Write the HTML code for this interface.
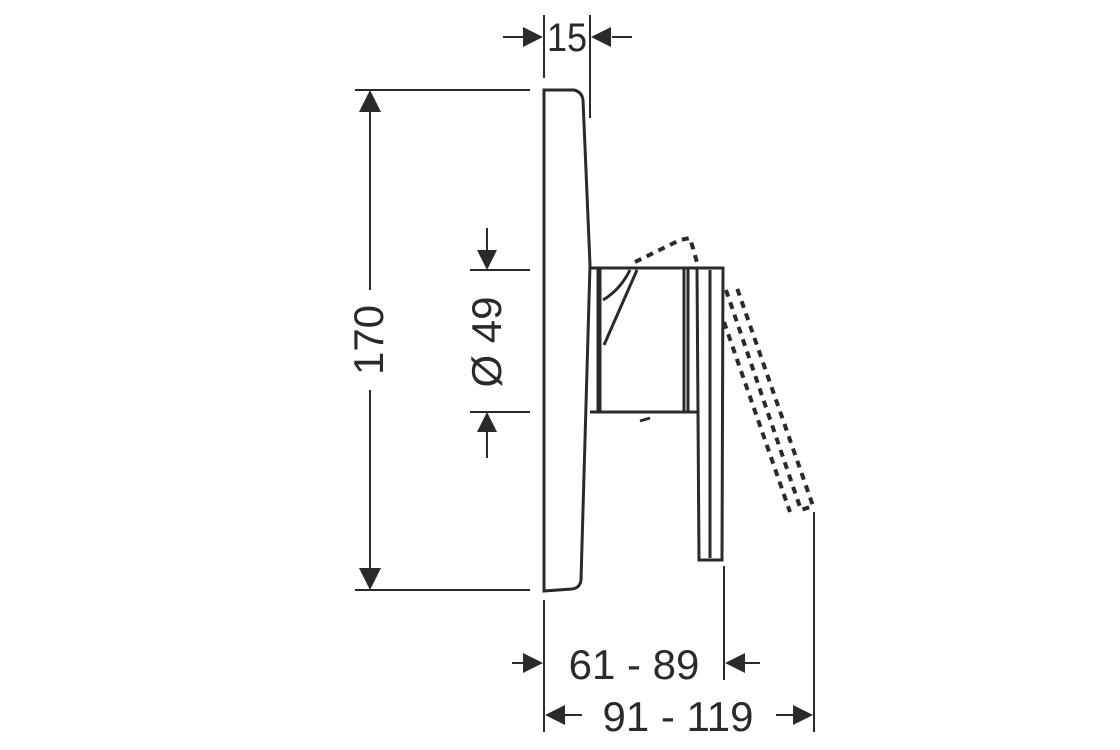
<!DOCTYPE html>
<html><head><style>html,body{margin:0;padding:0;background:#fff}svg{display:block}</style></head>
<body>
<svg width="1120" height="750" viewBox="0 0 1120 750" xmlns="http://www.w3.org/2000/svg">
<g stroke="#2a2a2a" fill="none" stroke-width="2">
<line x1="355" y1="90" x2="530" y2="90"/>
<line x1="355" y1="590" x2="530" y2="590"/>
<line x1="370" y1="92" x2="370" y2="290"/>
<line x1="370" y1="390" x2="370" y2="588"/>
<path d="M370,90 l-11,22 h22 z M370,590 l-11,-22 h22 z" fill="#2a2a2a" stroke="none"/>
<line x1="470" y1="270" x2="530" y2="270"/>
<line x1="470" y1="412" x2="530" y2="412"/>
<line x1="487" y1="228" x2="487" y2="255"/>
<line x1="487" y1="428" x2="487" y2="458"/>
<path d="M487,270 l-10,-20 h20 z M487,412 l-10,20 h20 z" fill="#2a2a2a" stroke="none"/>
<line x1="544" y1="15" x2="544" y2="78"/>
<line x1="590" y1="15" x2="590" y2="118"/>
<line x1="503" y1="37" x2="525" y2="37"/>
<line x1="612" y1="37" x2="632" y2="37"/>
<path d="M543,37 l-20,-10 v20 z M591,37 l20,-10 v20 z" fill="#2a2a2a" stroke="none"/>
<line x1="544" y1="600" x2="544" y2="732"/>
<line x1="724" y1="566" x2="724" y2="680"/>
<line x1="814" y1="512" x2="814" y2="732"/>
<line x1="512" y1="663" x2="526" y2="663"/>
<line x1="742" y1="663" x2="760" y2="663"/>
<path d="M543,663 l-20,-10 v20 z M725,663 l20,-10 v20 z" fill="#2a2a2a" stroke="none"/>
<line x1="560" y1="715" x2="582" y2="715"/>
<line x1="776" y1="715" x2="796" y2="715"/>
<path d="M545,715 l20,-10 v20 z M813,715 l-20,-10 v20 z" fill="#2a2a2a" stroke="none"/>
<g stroke-width="3">
<path d="M544,90 H574 Q582,92 583,100 L590,265 L581,580 Q580,588 572,589 L544,591 Z"/>
<path d="M590,268 H598 V412 H590"/>
<path d="M600,268 H684 V412 H600 Z"/>
<path d="M684,268 H697 M684,412 H697"/>
<path d="M598,268 V412"/>
<path d="M637,270 L604,345"/>
<path d="M603,300 Q620,290 630,270"/>
<path d="M697,268 H723 L722,560 H699 Z"/>
<line x1="710" y1="270" x2="710" y2="558"/>
<line x1="688" y1="268" x2="688" y2="412"/>
<path d="M640,421 l10,-3"/>
</g>
<g stroke-width="4" stroke-dasharray="7,6">
<path d="M635,262 L680,240 L690,238 L698,266"/>
<path d="M726,290 L801,510 L813,506 L737,288"/>
<path d="M724,322 L790,512"/>
</g>
</g>
<g font-family="Liberation Sans, sans-serif" font-size="42" fill="#2a2a2a">
<text x="547" y="51" font-size="40" textLength="40" lengthAdjust="spacingAndGlyphs">15</text>
<text x="634" y="679" text-anchor="middle">61 - 89</text>
<text x="678" y="731" text-anchor="middle">91 - 119</text>
<text transform="translate(383,340) rotate(-90)" text-anchor="middle">170</text>
<text transform="translate(501,342) rotate(-90)" text-anchor="middle">Ø 49</text>
</g>
</svg>
</body></html>
